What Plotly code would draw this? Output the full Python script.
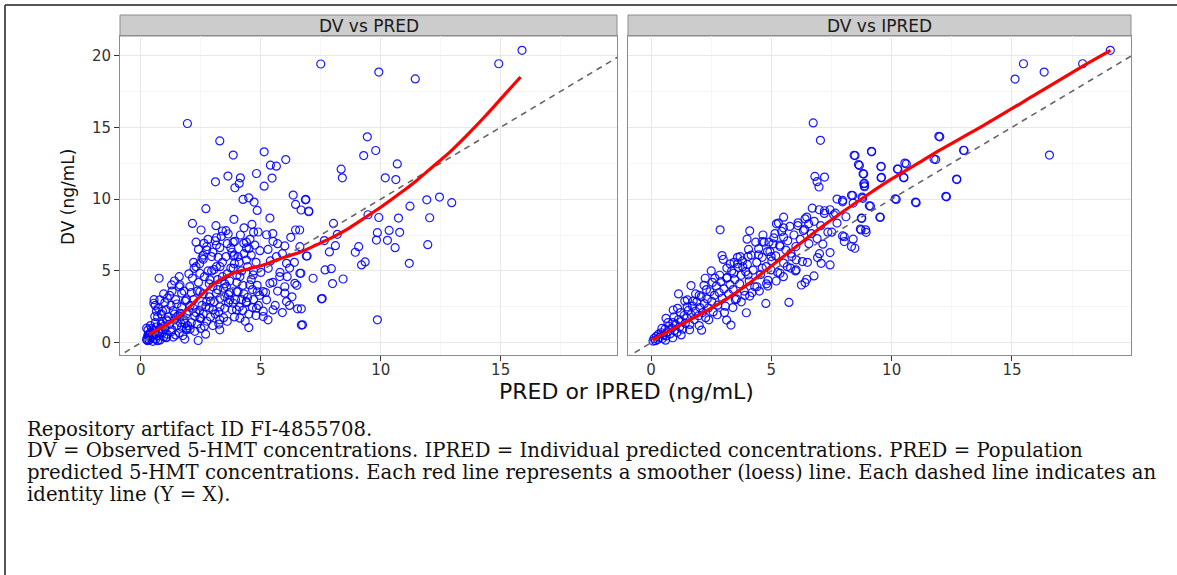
import plotly.graph_objects as go

# ---------------- data ----------------
pred_x = [7.5, 9.92, 11.44, 14.92, 15.89, 9.44, 9.79, 9.29, 10.69, 8.35, 8.40, 10.19, 10.63, 6.86, 7.0,
          11.92, 12.45, 12.96, 11.22, 9.47, 9.92, 10.74, 12.04, 8.03, 8.19, 9.86, 10.35, 10.79, 9.82, 10.28,
          10.60, 11.96, 7.65, 8.11, 9.08, 8.94, 7.86, 6.93, 9.35, 9.20, 11.19, 7.94, 7.68, 8.43, 7.99, 7.18,
          6.67, 7.56, 9.86, 6.69, 6.74, 6.62,
          1.94, 3.29, 3.85, 5.14, 5.40, 5.65, 6.04, 3.63, 4.15, 4.82, 5.47, 3.11, 4.10, 3.92, 5.14, 4.26, 4.5,
          4.72, 6.35, 6.88, 6.45, 6.68, 7.0, 2.71, 4.85, 3.88, 5.38, 2.15, 4.63, 2.51, 3.13, 3.40, 3.64, 4.89,
          5.24, 6.45, 6.25, 2.63, 3.15, 3.92, 4.29, 5.51, 6.0, 6.63, 2.74, 3.29, 4.51, 4.96, 6.9, 2.6, 3.22,
          3.85, 4.40, 5.65, 6.07, 2.22, 3.15, 3.85, 5.31, 6.63, 0.76, 2.46, 2.88, 4.13, 4.68, 5.79, 1.28, 1.63,
          2.04, 3.57, 4.54, 5.38, 6.42, 1.70, 2.46, 3.15, 3.99, 5.10, 6.0, 7.53, 0.79, 0.54, 1.90, 2.74, 3.71,
          4.40, 5.24, 6.07, 0.72, 1.35, 2.18, 3.01, 3.99, 4.82, 5.51, 6.53, 0.58, 1.07, 1.63, 2.46, 3.29, 4.13,
          5.10, 6.69, 0.24, 0.93, 1.90, 3.29, 4.5, 0.30, 1.07, 1.83, 2.39, 0.24,
          0.25, 0.3, 0.35, 0.4, 0.45, 0.5, 0.55, 0.6, 0.65, 0.7, 0.75, 0.8, 0.85, 0.9, 0.95, 1.0, 0.3, 0.4, 0.5,
          0.6, 0.7, 0.35, 0.55, 0.45, 0.8, 0.9, 0.28, 0.38, 0.48, 0.62,
          1.1, 1.2, 1.3, 1.4, 1.5, 1.6, 1.7, 1.8, 1.9, 2.0, 1.15, 1.25, 1.35, 1.45, 1.55, 1.65, 1.75, 1.85, 1.95,
          1.05, 1.2, 1.5, 1.8, 1.6, 1.3, 1.0, 0.9, 0.7, 0.6, 0.55, 0.85, 1.1, 1.4, 1.7, 1.9,
          2.1, 2.2, 2.3, 2.4, 2.5, 2.6, 2.7, 2.8, 2.9, 3.0, 2.15, 2.25, 2.35, 2.45, 2.55, 2.65, 2.75, 2.85, 2.95,
          2.05, 2.2, 2.4, 2.6, 2.8, 2.3, 2.5, 2.7, 2.9, 2.1, 2.6, 2.35, 2.85,
          3.1, 3.2, 3.3, 3.4, 3.5, 3.6, 3.7, 3.8, 3.9, 4.0, 3.15, 3.25, 3.35, 3.45, 3.55, 3.65, 3.75, 3.85, 3.95,
          3.05, 3.3, 3.5, 3.7, 3.9, 3.2, 3.6, 3.8, 3.4, 3.0, 3.55, 3.1, 3.75,
          4.1, 4.2, 4.3, 4.4, 4.5, 4.6, 4.7, 4.8, 4.9, 5.0, 4.15, 4.25, 4.35, 4.45, 4.55, 4.65, 4.75, 4.85, 4.95,
          4.05, 4.4, 4.6, 4.8, 4.3, 4.7, 4.2,
          5.2, 5.4, 5.6, 5.8, 6.0, 6.2, 5.3, 5.5, 5.7, 5.9, 6.1, 6.3, 5.1, 5.5, 5.9, 6.4, 5.3, 5.7, 6.2, 6.5,
          1.05, 1.25, 1.45, 1.65, 1.85, 2.05, 2.25, 2.45, 2.65, 2.85, 3.05, 3.25, 3.45, 3.65, 3.85, 4.05, 4.25,
          4.45, 4.65, 4.85, 2.0, 2.3, 2.55, 2.75, 3.0, 3.3, 3.6, 3.9, 4.1, 4.4, 1.4, 1.6, 1.1, 0.95, 0.65, 2.95,
          3.5, 4.0, 4.3, 4.7]
pred_dv = [19.4, 18.84, 18.36, 19.42, 20.35, 14.33, 13.38, 13.03, 12.45, 12.08, 11.48, 11.48, 11.36, 9.95, 9.12,
           9.95, 10.14, 9.75, 9.51, 8.91, 8.72, 8.68, 8.70, 8.31, 7.55, 7.66, 7.82, 7.69, 7.15, 7.13,
           6.62, 6.83, 7.11, 6.76, 6.69, 6.30, 6.32, 6.04, 5.63, 5.42, 5.53, 5.16, 5.07, 4.44, 4.12, 4.49,
           4.84, 3.08, 1.60, 2.36, 1.25, 7.85,
           15.26, 14.05, 13.06, 13.29, 12.36, 12.29, 12.75, 11.6, 11.48, 11.78, 11.46, 11.2, 11.09, 10.79, 10.9,
           9.98, 10.09, 9.79, 10.28, 9.98, 9.63, 9.24, 9.17, 9.33, 9.21, 8.59, 8.68, 8.31, 8.24, 7.85, 8.15, 7.78,
           7.57, 7.71, 7.52, 7.85, 7.34, 6.92, 7.31, 7.06, 6.92, 7.06, 6.74, 6.69, 6.46, 6.62, 6.57, 6.41, 6.04,
           5.81, 5.95, 6.04, 5.76, 5.99, 5.53, 5.18, 5.30, 5.18, 5.18, 4.84, 4.49, 4.84, 4.38, 4.61, 4.72, 4.61,
           4.03, 4.03, 3.91, 3.91, 4.03, 4.14, 4.14, 3.45, 3.56, 3.45, 3.56, 3.56, 3.45, 3.06, 2.99, 2.75, 2.99,
           2.87, 2.99, 2.87, 2.99, 2.87, 2.41, 2.24, 2.41, 2.29, 2.29, 2.41, 2.29, 2.36, 1.83, 1.60, 1.83, 1.71,
           1.60, 1.71, 1.83, 1.23, 1.02, 1.13, 1.02, 0.90, 1.06, 0.56, 0.39, 0.26, 0.16, 0.21,
           0.3, 0.5, 0.2, 0.7, 0.4, 0.9, 0.3, 0.6, 1.1, 0.5, 0.8, 0.2, 1.3, 0.7, 0.4, 1.0, 0.9, 1.2, 0.1,
           1.4, 0.15, 0.6, 0.75, 1.0, 1.0, 1.5, 0.15, 0.35, 0.55, 0.25,
           0.6, 1.3, 0.9, 2.0, 1.2, 0.7, 2.5, 1.6, 0.9, 2.2, 1.8, 2.6, 0.4, 3.0, 1.9, 1.4, 0.5, 2.9, 1.2,
           2.3, 3.3, 2.7, 3.6, 3.9, 3.6, 2.8, 2.2, 1.8, 2.6, 3.0, 2.0, 1.5, 1.6, 1.1, 2.0,
           1.4, 3.0, 2.1, 4.2, 1.0, 3.4, 2.5, 5.0, 1.8, 3.9, 4.5, 0.8, 3.6, 5.5, 2.6, 4.6, 1.5, 3.2, 6.0,
           2.6, 5.6, 6.5, 6.1, 7.2, 7.0, 1.7, 0.6, 2.9, 3.5, 2.0, 1.3, 4.1,
           2.0, 4.4, 3.1, 5.6, 2.4, 4.8, 3.5, 6.3, 1.8, 4.2, 6.8, 1.3, 7.4, 3.8, 6.0, 2.8, 5.2, 7.0, 3.0,
           5.1, 2.5, 3.2, 4.3, 5.5, 3.7, 1.5, 2.3, 4.6, 1.2, 7.8, 7.1, 6.6,
           2.5, 5.0, 3.4, 6.6, 2.0, 4.4, 3.0, 5.6, 2.6, 4.9, 7.5, 4.0, 1.5, 5.3, 7.2, 3.7, 6.8, 4.0, 3.3,
           6.0, 2.8, 6.1, 1.9, 8.0, 5.0, 3.0,
           3.5, 5.7, 2.6, 4.9, 3.9, 5.2, 6.5, 4.2, 6.9, 2.1, 4.6, 3.2, 2.2, 7.6, 6.2, 5.6, 1.6, 3.6, 2.6, 4.0,
           0.35, 0.75, 0.55, 2.05, 1.35, 0.95, 1.85, 2.25, 1.15, 2.45, 2.85, 2.15, 1.75, 3.35, 2.75, 3.55, 2.25,
           3.15, 2.45, 3.55, 4.8, 5.3, 5.9, 6.7, 6.3, 5.3, 6.9, 6.1, 5.6, 7.0, 4.3, 4.6, 3.1, 3.4, 2.2, 5.0,
           4.1, 4.7, 6.2, 7.7]

ipred_x = [19.09, 15.48, 16.34, 15.13, 17.94, 12.0, 9.17, 8.48, 13.01, 16.56, 11.83, 8.66, 9.56, 10.26, 10.61,
           8.84, 9.56, 10.51, 12.71, 8.87, 8.87, 8.38, 8.80, 7.96, 10.19, 11.02, 12.28, 9.12, 9.53, 8.76, 8.1,
           8.73, 8.94, 8.03,
           6.74, 7.04, 8.44, 9.16, 8.62, 8.81, 9.56, 10.24, 10.55, 6.81, 7.21, 6.9, 6.98, 8.84, 8.87, 9.58, 11.96,
           12.99, 11.76, 12.7, 12.25, 10.99, 10.15, 10.5, 7.73, 7.96, 8.33, 8.77, 8.4, 9.07, 9.51, 8.74, 8.92, 8.7,
           6.7, 6.99, 7.21, 7.44, 7.66, 7.73, 7.59, 5.51, 5.29, 5.21, 6.4, 6.55, 6.1, 6.33, 7.51, 7.96, 8.4, 8.33,
           8.47, 8.03, 7.14, 7.44, 6.92, 7.44, 7.07, 6.77, 6.4, 6.25, 6.47, 5.73, 4.77, 2.87, 4.1, 3.99,
           4.62, 5.07, 5.51, 5.36, 4.84, 4.47, 4.99, 5.81, 6.03, 5.66, 6.03, 5.36, 4.99, 4.62,
           2.95, 3.59, 4.03, 3.29, 3.81, 4.03, 3.44, 3.14, 2.25, 1.66, 1.14, 1.51, 0.62, 0.92, 3.96, 3.14, 3.32, 2.1,
           0.08, 0.12, 0.18, 0.22, 0.27, 0.31, 0.36, 0.42, 0.47, 0.52, 0.58, 0.63, 0.69, 0.74, 0.79, 0.86, 0.91,
           0.97, 1.03, 1.08, 1.14, 1.19, 1.26, 1.31, 1.37, 1.42, 1.48, 1.55, 1.61, 1.66, 1.72, 1.79, 1.84, 1.9,
           1.97, 2.03, 2.08, 2.14, 2.21, 2.27, 2.33, 2.38, 2.45, 2.52, 2.58, 2.63, 2.71, 2.77, 2.83, 2.9, 2.96,
           3.03, 3.09, 3.16, 3.22, 3.28, 3.35, 3.41, 3.48, 3.55, 3.61, 3.68, 3.74, 3.8, 3.87, 3.93, 4.0, 4.08,
           4.16, 4.24, 4.31, 4.39, 4.47, 4.55, 4.62, 4.7, 4.78, 4.86, 4.94, 5.02, 5.1, 5.18, 5.26, 5.35, 5.43,
           5.51, 5.6, 5.68, 5.77, 5.85, 5.94, 6.02, 6.11, 6.2, 6.29, 6.38, 6.47, 6.56, 6.66, 6.78, 6.9, 7.05,
           7.2, 7.35,
           0.45, 0.7, 0.95, 1.22, 1.5, 1.75, 2.0, 2.3, 2.55, 1.1, 1.4, 2.85, 3.15, 3.45, 3.7, 4.05, 4.35, 4.65,
           2.0, 2.4, 2.75, 3.05, 3.4, 3.75, 4.1, 4.5, 4.85, 5.2, 1.6, 1.25, 0.9, 0.6, 3.6, 2.65, 4.9, 5.15, 5.5,
           1.85, 2.2, 2.5, 3.0,
           3.5, 4.2, 4.8, 5.5, 6.0, 6.5, 7.0, 5.8, 4.4, 3.9]
ipred_dv = [20.35, 19.42, 18.84, 18.35, 19.42, 14.33, 13.29, 13.03, 13.38, 13.06, 12.75, 12.34, 12.25, 12.08, 12.45,
            11.74, 11.48, 11.48, 11.36, 11.09, 10.86, 10.25, 10.05, 9.81, 9.98, 9.75, 10.16, 9.51, 8.73, 8.66, 8.77,
            7.85, 7.69, 7.38,
            15.3, 14.09, 13.05, 13.33, 12.4, 11.77, 12.28, 12.09, 12.51, 11.58, 11.53, 11.21, 10.84, 11.07, 10.93,
            11.51, 14.37, 13.4, 12.79, 11.4, 10.19, 9.79, 10.02, 11.51, 10.0, 9.91, 10.26, 10.14, 9.72, 9.53, 8.74,
            8.67, 7.86, 7.91, 9.37, 9.26, 9.19, 9.26, 9.02, 8.33, 8.91, 8.74, 8.33, 8.28, 8.63, 8.28, 8.16, 7.81,
            7.7, 7.44, 7.21, 6.7, 6.58, 7.05, 6.86, 6.28, 5.93, 5.42, 5.53, 4.65, 4.19, 4.02, 4.42, 2.81, 2.74,
            7.86, 7.79, 7.21,
            7.05, 6.88, 7.35, 6.7, 6.35, 6.12, 6.0, 6.23, 5.77, 5.3, 5.07, 4.84, 5.07, 5.19,
            6.07, 5.95, 6.0, 5.49, 5.3, 4.72, 4.84, 4.49, 4.49, 3.98, 3.4, 2.98, 1.7, 2.28, 2.09, 1.58, 1.23, 0.88,
            0.12, 0.3, 0.15, 0.45, 0.22, 0.6, 0.38, 0.7, 0.3, 0.55, 0.95, 0.48, 0.78, 1.15, 0.62, 1.02, 1.4,
            0.85, 1.25, 0.72, 1.62, 1.1, 1.48, 0.95, 1.9, 1.35, 1.72, 2.25, 1.28, 1.95, 2.55, 1.62, 2.2, 2.85,
            1.88, 2.45, 3.2, 2.1, 2.72, 1.75, 3.05, 2.42, 3.55, 2.88, 2.15, 3.3, 3.95, 2.62, 3.5, 4.25, 3.1,
            3.75, 2.55, 4.55, 3.4, 4.05, 5.0, 3.7, 4.4, 3.05, 5.25, 4.1, 4.7, 5.7, 3.6, 4.95, 5.45, 4.3,
            6.1, 5.05, 3.9, 5.6, 6.55, 4.75, 5.95, 7.0, 5.3, 4.35, 6.35, 5.7, 7.3, 6.05, 4.9, 6.8, 7.75,
            5.55, 6.45, 7.1, 8.1, 6.0, 7.5, 6.7, 8.35, 7.2, 5.65, 7.9, 8.75, 6.9, 7.6, 8.45, 7.25, 8.15,
            9.0, 7.7,
            1.0, 1.4, 1.8, 2.1, 2.5, 2.9, 3.3, 3.7, 4.2, 2.4, 2.9, 4.7, 5.2, 5.6, 6.0, 6.5, 7.0, 7.5,
            1.2, 1.6, 1.95, 2.1, 2.45, 2.85, 3.25, 3.6, 3.95, 4.3, 0.9, 0.55, 0.35, 0.18, 5.5, 4.5, 7.0, 7.6, 8.0,
            3.4, 4.0, 5.0, 5.8,
            3.0, 3.5, 4.1, 4.6, 5.0, 5.6, 6.2, 5.2, 3.9, 3.3]

# loess smoother curves (as drawn in the picture)
loess_pred_x = [0.35, 1.0, 1.5, 2.0, 2.46, 2.9, 3.29, 3.85, 4.5, 5.1, 5.8, 6.63, 7.3, 8.0, 8.7, 9.4, 10.1,
                10.8, 11.5, 12.2, 12.9, 13.6, 14.4, 15.1, 15.83]
loess_pred_y = [0.6, 1.2, 1.75, 2.45, 3.22, 3.9, 4.38, 4.84, 5.15, 5.42, 5.85, 6.3, 6.8, 7.35, 8.0, 8.77, 9.55,
                10.4, 11.3, 12.3, 13.3, 14.45, 15.85, 17.15, 18.5]
loess_ipred_x = [0.05, 1, 2, 3, 4, 5, 6, 7, 8, 9, 10, 11, 12, 14, 16, 18, 19.1]
loess_ipred_y = [0.2, 1.05, 1.95, 2.9, 4.05, 5.35, 6.65, 7.95, 9.15, 10.3, 11.4, 12.4, 13.4, 15.3, 17.3, 19.3, 20.35]

identity = [-5, 25]

panel_titles = ["DV vs PRED", "DV vs IPRED"]
x_ticks = [0, 5, 10, 15]
y_ticks = [0, 5, 10, 15, 20]
x_title = "PRED or IPRED (ng/mL)"
y_title = "DV (ng/mL)"
caption = [
    "Repository artifact ID FI-4855708.",
    "DV = Observed 5-HMT concentrations. IPRED = Individual predicted concentrations. PRED = Population",
    "predicted 5-HMT concentrations. Each red line represents a smoother (loess) line. Each dashed line indicates an",
    "identity line (Y = X).",
]

# ---------------- figure ----------------
W, H = 1177, 575


def px(x):
    return x / W


def py(y):
    return 1 - y / H


fig = go.Figure()
marker = dict(symbol="circle-open", size=8, color="rgba(0,0,255,0.9)", line=dict(width=1.2, color="rgba(0,0,255,0.9)"))
for xs, ys, lx, ly, xa, ya in [(pred_x, pred_dv, loess_pred_x, loess_pred_y, "x", "y"),
                               (ipred_x, ipred_dv, loess_ipred_x, loess_ipred_y, "x2", "y2")]:
    fig.add_trace(go.Scatter(x=xs, y=ys, mode="markers", marker=marker, xaxis=xa, yaxis=ya, showlegend=False,
                             hoverinfo="x+y"))
    fig.add_trace(go.Scatter(x=identity, y=identity, mode="lines", xaxis=xa, yaxis=ya, showlegend=False,
                             line=dict(color="#666666", width=1.6, dash="6px,5px"), hoverinfo="skip"))
    fig.add_trace(go.Scatter(x=lx, y=ly, mode="lines", xaxis=xa, yaxis=ya, showlegend=False,
                             line=dict(color="#FF0000", width=3.2, shape="spline", smoothing=0.8), hoverinfo="skip"))

tick_font = dict(family="DejaVu Sans", size=15, color="#333333")
common = dict(showgrid=True, gridcolor="#E8E8E8", gridwidth=1, zeroline=False, showline=True, mirror=True,
              linecolor="#8C8C8C", linewidth=1, ticks="outside", ticklen=5,
              tickcolor="#333333", tickfont=tick_font,
              minor=dict(dtick=2.5, tick0=0, showgrid=True, gridcolor="#F5F5F5", ticks=""))

ydom = [py(355), py(36)]
fig.update_layout(
    width=W, height=H, margin=dict(l=0, r=0, t=0, b=0),
    paper_bgcolor="white", plot_bgcolor="white",
    xaxis=dict(domain=[px(120), px(617)], range=[-0.87, 19.85], anchor="y", tickvals=x_ticks,
               ticklabelstandoff=-4, **common),
    yaxis=dict(domain=ydom, range=[-0.85, 21.35], anchor="x", tickvals=y_ticks, **common),
    xaxis2=dict(domain=[px(628), px(1131)], range=[-0.96, 19.95], anchor="y2", tickvals=x_ticks,
                ticklabelstandoff=-4, **common),
    yaxis2=dict(domain=ydom, range=[-0.85, 21.35], anchor="x2", tickvals=y_ticks,
                **{**common, "showticklabels": False, "ticks": ""}),
)

shapes = []
annotations = []
for (x0, x1), title in zip([(120, 617), (628, 1131)], panel_titles):
    shapes.append(dict(type="rect", xref="paper", yref="paper", x0=px(x0), x1=px(x1), y0=py(36), y1=py(15),
                       fillcolor="#CCCCCC", line=dict(color="#8C8C8C", width=1), layer="below"))
    annotations.append(dict(text=title, xref="paper", yref="paper", x=px((x0 + x1) / 2), y=py(25.5),
                            showarrow=False, xanchor="center", yanchor="middle",
                            font=dict(family="DejaVu Sans", size=17, color="#1A1A1A")))

# outer frame lines
shapes.append(dict(type="line", xref="paper", yref="paper", x0=px(5), x1=1.01, y0=py(5), y1=py(5),
                   line=dict(color="#555555", width=2)))
shapes.append(dict(type="line", xref="paper", yref="paper", x0=px(5), x1=px(5), y0=py(5), y1=-0.01,
                   line=dict(color="#555555", width=2)))

annotations.append(dict(text=x_title, xref="paper", yref="paper", x=px(626), y=py(391), showarrow=False,
                        xanchor="center", yanchor="middle", font=dict(family="DejaVu Sans", size=22, color="#111111")))
annotations.append(dict(text=y_title, xref="paper", yref="paper", x=px(68), y=py(197), showarrow=False,
                        textangle=-90, xanchor="center", yanchor="middle",
                        font=dict(family="DejaVu Sans", size=17, color="#111111")))
for i, line in enumerate(caption):
    annotations.append(dict(text=line, xref="paper", yref="paper", x=px(25), y=py(429 + i * 21.7),
                            showarrow=False, xanchor="left", yanchor="middle",
                            font=dict(family="DejaVu Serif", size=19.7, color="#111111")))

fig.update_layout(shapes=shapes, annotations=annotations)
fig.write_html("out.html")
